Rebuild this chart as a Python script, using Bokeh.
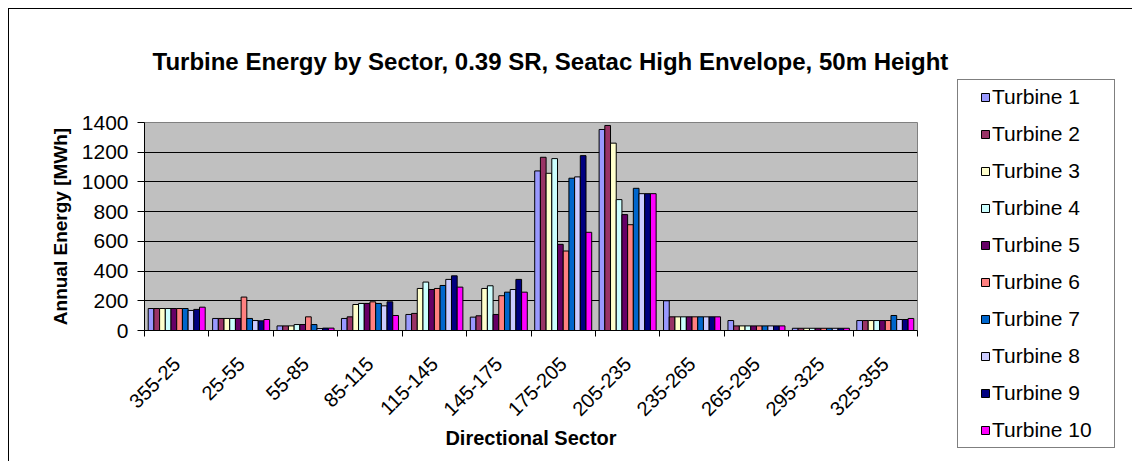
import math
from bokeh.plotting import figure
from bokeh.layouts import row, column
from bokeh.models import ColumnDataSource, FixedTicker, Range1d, Legend, LegendItem, Title
from bokeh.embed import file_html
from bokeh.resources import INLINE

# Directional sectors (degrees)
sectors = ["355-25", "25-55", "55-85", "85-115", "115-145", "145-175",
           "175-205", "205-235", "235-265", "265-295", "295-325", "325-355"]

# Annual energy per sector [MWh]
turbine_1 = [148, 81, 31, 81, 108, 90, 1074, 1353, 200, 67, 15, 67]
turbine_2 = [148, 81, 31, 92, 115, 99, 1166, 1380, 92, 31, 15, 67]
turbine_3 = [148, 81, 31, 175, 283, 283, 1058, 1261, 92, 31, 15, 67]
turbine_4 = [148, 81, 40, 182, 326, 301, 1157, 881, 92, 31, 15, 67]
turbine_5 = [148, 81, 40, 182, 276, 108, 580, 780, 92, 31, 15, 67]
turbine_6 = [148, 225, 92, 193, 283, 234, 535, 712, 92, 31, 15, 67]
turbine_7 = [148, 81, 40, 182, 303, 258, 1025, 957, 92, 31, 15, 101]
turbine_8 = [135, 67, 13, 166, 344, 276, 1034, 921, 92, 31, 15, 74]
turbine_9 = [142, 65, 16, 193, 368, 344, 1177, 921, 92, 31, 15, 74]
turbine_10 = [157, 74, 16, 101, 292, 258, 661, 921, 92, 31, 15, 81]

series_names = ["Turbine 1", "Turbine 2", "Turbine 3", "Turbine 4", "Turbine 5",
                "Turbine 6", "Turbine 7", "Turbine 8", "Turbine 9", "Turbine 10"]
series_values = [turbine_1, turbine_2, turbine_3, turbine_4, turbine_5,
                 turbine_6, turbine_7, turbine_8, turbine_9, turbine_10]
series_colors = ["#9999FF", "#993366", "#FFFFCC", "#CCFFFF", "#660066",
                 "#FF8080", "#0066CC", "#CCCCFF", "#000080", "#FF00FF"]

y_ticks = [0, 200, 400, 600, 800, 1000, 1200, 1400]

FONT = "Liberation Sans"

p = figure(width=941, height=453, output_backend="svg", toolbar_location=None,
           x_range=Range1d(0.5, 12.5), y_range=Range1d(0, 1400),
           min_border_left=135, min_border_right=33,
           min_border_top=113, min_border_bottom=132)
p.background_fill_color = "#C0C0C0"
p.border_fill_color = "white"
p.outline_line_color = "#808080"
p.outline_line_width = 1

# empty spacer between the plot area and the title
p.add_layout(Title(text=" ", text_font=FONT, text_font_size="20px", standoff=18), "above")

# Title
p.title.text = "Turbine Energy by Sector, 0.39 SR, Seatac High Envelope, 50m Height"
p.title.text_font = FONT
p.title.text_font_size = "24px"
p.title.text_font_style = "bold"
p.title.text_color = "black"
p.title.align = "left"
p.title.offset = 8
p.title.standoff = 11

# Grouped bars
n = len(series_values)
bar_w = 0.0885
centers = list(range(1, len(sectors) + 1))
for k, (vals, col) in enumerate(zip(series_values, series_colors)):
    xs = [c + (k - (n - 1) / 2) * bar_w for c in centers]
    src = ColumnDataSource(dict(x=xs, top=vals))
    p.vbar(x="x", top="top", bottom=0, width=bar_w, source=src,
           fill_color=col, line_color="black", line_width=1)

# Grid
p.xgrid.visible = False
p.ygrid.grid_line_color = "black"
p.ygrid.grid_line_width = 1

# X axis: labels at group centres, tick marks at group boundaries
xa = p.xaxis[0]
xa.ticker = FixedTicker(ticks=centers,
                        minor_ticks=[c - 0.5 for c in centers] + [centers[-1] + 0.5])
xa.major_label_overrides = {c: s for c, s in zip(centers, sectors)}
xa.major_tick_in = 0
xa.major_tick_out = 0
xa.minor_tick_in = 0
xa.minor_tick_out = 6
xa.minor_tick_line_color = "black"
xa.axis_line_color = "black"
xa.major_label_orientation = math.pi / 4
xa.major_label_standoff = 24
xa.major_label_text_font = FONT
xa.major_label_text_font_size = "20px"
xa.major_label_text_color = "black"
xa.axis_label = "Directional Sector"
xa.axis_label_text_font = FONT
xa.axis_label_text_font_size = "20px"
xa.axis_label_text_font_style = "bold"
xa.axis_label_text_color = "black"
xa.axis_label_standoff = 2

# Y axis
ya = p.yaxis[0]
ya.ticker = FixedTicker(ticks=y_ticks, minor_ticks=[])
ya.major_tick_in = 0
ya.major_tick_out = 7
ya.major_tick_line_color = "black"
ya.axis_line_color = "black"
ya.major_label_standoff = 9
ya.major_label_text_font = FONT
ya.major_label_text_font_size = "21px"
ya.major_label_text_color = "black"
ya.axis_label = "Annual Energy [MWh]"
ya.axis_label_text_font = FONT
ya.axis_label_text_font_size = "19px"
ya.axis_label_text_font_style = "bold"
ya.axis_label_text_color = "black"
ya.axis_label_standoff = 8

# Legend panel: swatch renderers carry the same fills as the bars,
# with their single bar kept below the visible range
lg = figure(width=183, height=453, output_backend="svg", toolbar_location=None,
            x_range=Range1d(0, 1), y_range=Range1d(0, 1),
            x_axis_location=None, y_axis_location=None,
            min_border=0)
lg.outline_line_color = None
lg.background_fill_color = "white"
lg.border_fill_color = "white"
lg.xgrid.visible = False
lg.ygrid.visible = False
items = []
for name, col in zip(series_names, series_colors):
    r = lg.vbar(x=[0.5], top=[-1], bottom=-2, width=0.1,
                fill_color=col, line_color="black", line_width=1)
    items.append(LegendItem(label=name, renderers=[r]))

# a blank side title gives the swatches their left inset
legend = Legend(items=items, location=(7, 14),
                title=" ", title_location="left",
                title_text_font=FONT, title_text_font_size="10px", title_standoff=6,
                label_text_font=FONT, label_text_font_size="21px",
                label_text_color="black",
                glyph_width=10, glyph_height=10, label_height=20, label_width=117,
                label_standoff=2, spacing=13, padding=5, margin=0,
                border_line_color="black", border_line_width=1,
                background_fill_color="white", background_fill_alpha=1)
lg.add_layout(legend, "center")

layout = row(p, column(lg), spacing=0)
# chart border along the top and left edges
layout.margin = (9, 0, 0, 9)
layout.styles = {"box-shadow": "-1px -1px 0 0 #000"}

open("out.html", "w").write(file_html(layout, INLINE))
